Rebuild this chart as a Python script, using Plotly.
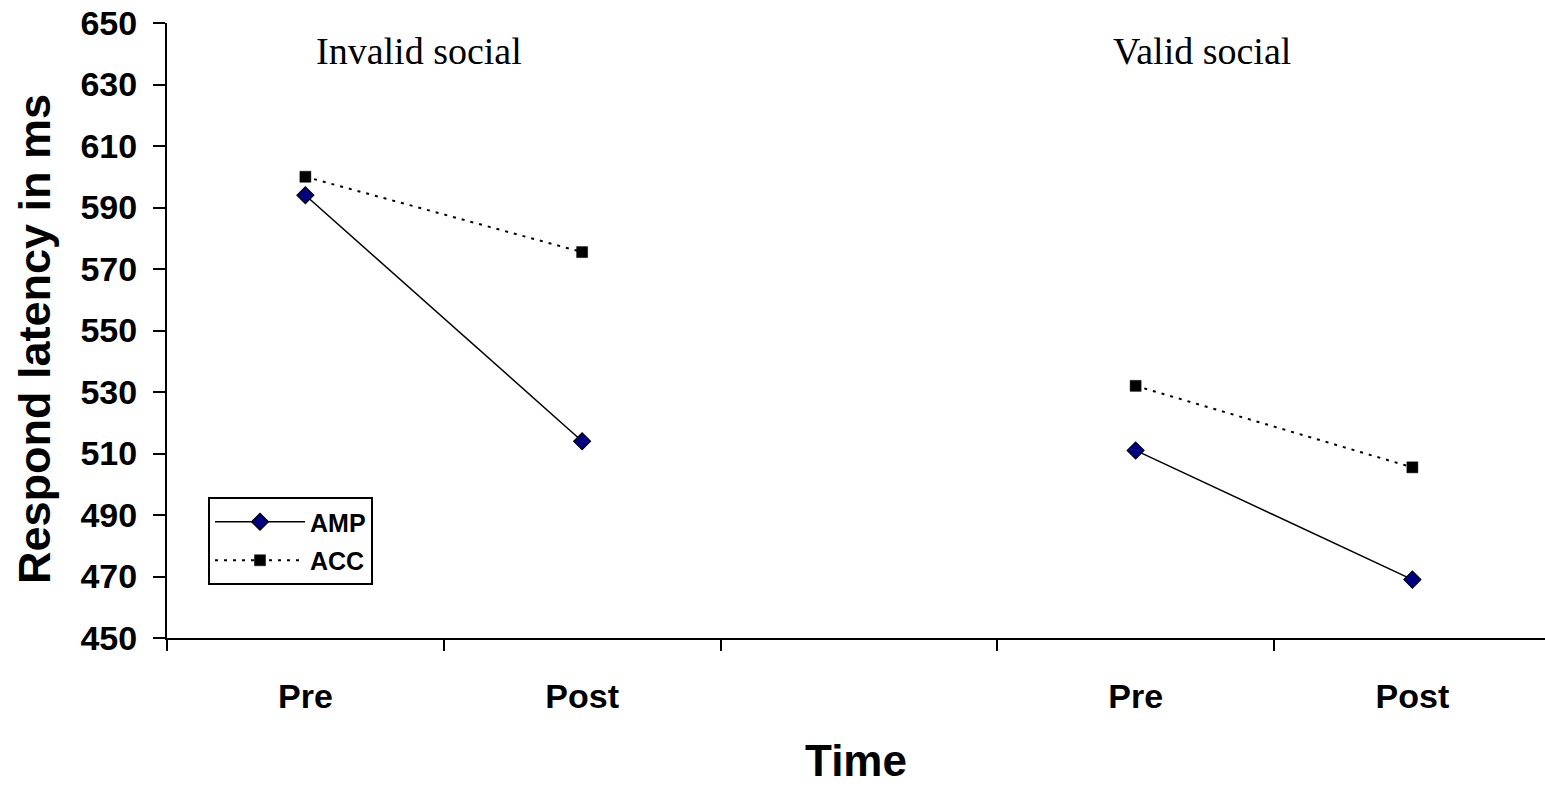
import plotly.graph_objects as go

# Data
positions = [1, 2, 3, 4, 5]            # slot 3 is the empty gap between conditions
tick_labels = ["Pre", "Post", "Pre", "Post"]
tick_positions = [1, 2, 4, 5]
amp = [594, 514, None, 511, 469]
acc = [600, 575.5, None, 532, 505.5]
groups = ["Invalid social", "Valid social"]
group_x = [1.41, 4.24]
y_ticks = [450, 470, 490, 510, 530, 550, 570, 590, 610, 630, 650]
y_title = "Respond latency in ms"
x_title = "Time"

W, H = 1545, 787
ML, MR, MT, MB = 167, 0, 23, 149
PW, PH = W - ML - MR, H - MT - MB
slot = 276.75
x_end = 0.5 + PW / slot

fig = go.Figure()
fig.add_trace(go.Scatter(
    x=positions, y=amp, name="AMP", mode="lines+markers",
    legendgroup="a",
    line=dict(color="black", width=1.5),
    marker=dict(symbol="diamond", size=13, color="#000080",
                line=dict(color="black", width=1.2)),
    connectgaps=False,
))
fig.add_trace(go.Scatter(
    x=positions, y=acc, name="ACC", mode="lines+markers",
    legendgroup="b",
    line=dict(color="black", width=2, dash="3px,6px"),
    marker=dict(symbol="square", size=11, color="black",
                line=dict(color="black", width=0.5)),
    connectgaps=False,
))

for g, gx in zip(groups, group_x):
    fig.add_annotation(
        x=gx, y=(638 - 51) / PH,
        xref="x", yref="paper", text=g, showarrow=False,
        xanchor="center", yanchor="middle",
        font=dict(family="Liberation Serif, Times New Roman, serif", size=38, color="black"),
    )

# y-axis title (placed as rotated annotation so it can sit slightly below centre, as in the reference)
fig.add_annotation(
    x=(34 - ML) / PW, y=(638 - 339) / PH, xref="paper", yref="paper",
    text=y_title, textangle=-90, showarrow=False,
    xanchor="center", yanchor="middle",
    font=dict(family="Liberation Sans, Arial, sans-serif", size=45, color="black", weight="bold"),
)

axis_font = dict(family="Liberation Sans, Arial, sans-serif", size=34, color="black", weight="bold")

fig.update_layout(
    width=W, height=H,
    margin=dict(l=ML, r=MR, t=MT, b=MB, pad=0),
    paper_bgcolor="white", plot_bgcolor="white",
    showlegend=True,
    legend=dict(
        x=(208 - ML) / PW, y=(638 - 497) / PH,
        xanchor="left", yanchor="top",
        bordercolor="black", borderwidth=2, bgcolor="white",
        font=dict(family="Liberation Sans, Arial, sans-serif", size=25, color="black", weight="bold"),
        traceorder="grouped", tracegroupgap=3, itemwidth=90,
    ),
    xaxis=dict(
        range=[0.5, x_end], showgrid=False, zeroline=False,
        showline=True, linecolor="black", linewidth=2,
        tickmode="array", tickvals=tick_positions, ticktext=tick_labels,
        ticks="", tickfont=axis_font, ticklabelstandoff=27,
        minor=dict(tickmode="array", tickvals=[0.5, 1.5, 2.5, 3.5, 4.5, 5.5],
                   ticks="outside", ticklen=11, tickwidth=1.5, tickcolor="black", showgrid=False),
        title=dict(text=x_title, font=dict(family="Liberation Sans, Arial, sans-serif",
                                           size=44, color="black", weight="bold"), standoff=31),
    ),
    yaxis=dict(
        range=[450, 650], showgrid=False, zeroline=False,
        showline=True, linecolor="black", linewidth=2,
        tickmode="array", tickvals=y_ticks,
        ticks="outside", ticklen=12, tickwidth=1.5, tickcolor="black",
        tickfont=axis_font, ticklabelstandoff=9,
    ),
)

fig.write_html("out.html", config={"displayModeBar": False},
               post_script="document.body.style.margin='0';document.body.style.overflow='hidden';")
